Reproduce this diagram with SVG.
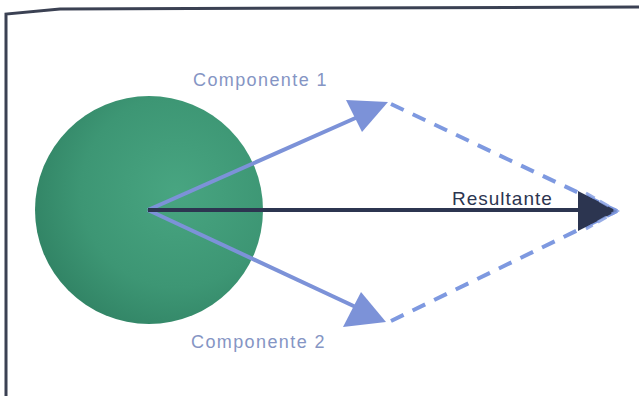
<svg xmlns="http://www.w3.org/2000/svg" width="639" height="396" viewBox="0 0 639 396">
<style>
.lbl{font-family:"Liberation Sans","DejaVu Sans",sans-serif;font-size:18px;letter-spacing:1.4px;fill:#8595c4}
.res{font-family:"Liberation Sans","DejaVu Sans",sans-serif;font-size:19px;letter-spacing:1px;fill:#2c3550}
.comp{stroke:#7c92d8;stroke-width:4;fill:none}
.dash{stroke:#7e99e0;stroke-width:4;fill:none;stroke-dasharray:14 10}
</style>
<defs>
<radialGradient id="g" cx="0.62" cy="0.42" r="0.7">
<stop offset="0" stop-color="#48a581"/>
<stop offset="0.6" stop-color="#3d9674"/>
<stop offset="1" stop-color="#2f8062"/>
</radialGradient>
</defs>
<rect x="0" y="0" width="639" height="396" fill="#ffffff"/>
<g id="frame">
<path d="M6,396 L6,14 L60,9 L639,7" fill="none" stroke="#3b4153" stroke-width="3"/>
</g>
<g id="body">
<circle cx="149" cy="210" r="114" fill="url(#g)"/>
</g>
<g id="connectors">
<path class="dash" d="M391,104 L617,211"/>
<path class="dash" d="M391,321 L617,211"/>
<line class="comp" x1="148" y1="210" x2="360" y2="116"/>
<polygon points="388,102 346,100 362,132" fill="#7c92d8"/>
<line class="comp" x1="148" y1="210" x2="360" y2="309"/>
<polygon points="386,322 343,327 361,292" fill="#7c92d8"/>
<line x1="148" y1="210" x2="585" y2="210" stroke="#2c3550" stroke-width="4"/>
<polygon points="617,211 578,191 578,231" fill="#2c3550"/>
<path d="M586,193 L617,211 L586,229" fill="none" stroke="#7e99e0" stroke-width="3" stroke-dasharray="10 6" opacity="0.8"/>
</g>
<g id="labels">
<text class="lbl" x="193" y="86">Componente 1</text>
<text class="lbl" x="191" y="348">Componente 2</text>
<text class="res" x="452" y="205">Resultante</text>
</g>
</svg>
